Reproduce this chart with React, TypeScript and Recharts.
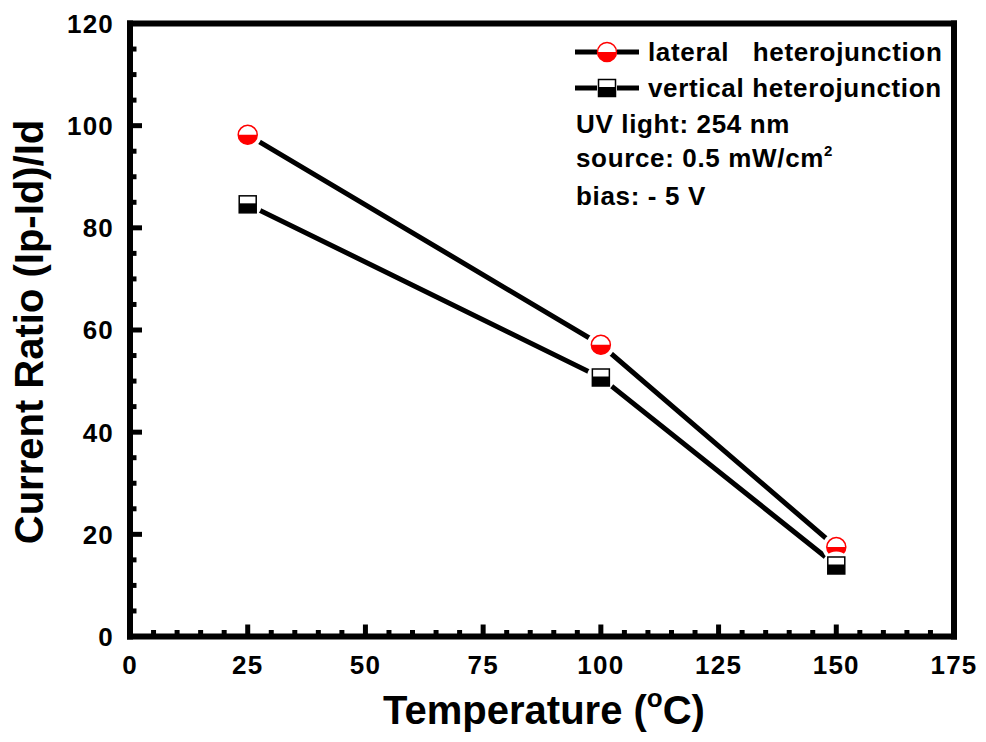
import { LineChart, Line, XAxis, YAxis, Legend, CartesianGrid } from 'recharts'

const temperatures = [25, 100, 150]
const lateralRatio = [98.2, 57.1, 17.5]
const verticalRatio = [84.6, 50.7, 13.9]

const xMajorTicks = [0, 25, 50, 75, 100, 125, 150, 175]
const yMajorTicks = [0, 20, 40, 60, 80, 100, 120]
const xTicks = Array.from({ length: 36 }, (_, i) => i * 5)
const yTicks = Array.from({ length: 25 }, (_, i) => i * 5)

const notes = ['UV light: 254 nm', 'source: 0.5 mW/cm', 'bias: - 5 V']

const data = temperatures.map((t, i) => ({ temp: t, lateral: lateralRatio[i], vertical: verticalRatio[i] }))

const FONT = '"Liberation Sans", Arial, Helvetica, sans-serif'
const RED = '#ff0000'
const X_GAP = 37
const Y_GAP = 17

function HalfCircle({ cx, cy, gap = true }: any) {
  const r = 9.5
  return (
    <g>
      {gap && <circle cx={cx} cy={cy} r={14} fill="#fff" />}
      <circle cx={cx} cy={cy} r={r} fill="#fff" stroke={RED} strokeWidth={1.5} />
      <path d={`M${cx - r},${cy} A${r},${r} 0 0 0 ${cx + r},${cy} Z`} fill={RED} />
    </g>
  )
}

function HalfSquare({ cx, cy, gap = true }: any) {
  const h = 8.5
  return (
    <g>
      {gap && <circle cx={cx} cy={cy} r={14} fill="#fff" />}
      <rect x={cx - h} y={cy - h} width={h * 2} height={h * 2} fill="#fff" stroke="#000" strokeWidth={1.5} />
      <rect x={cx - h} y={cy - 1} width={h * 2} height={h + 1} fill="#000" />
    </g>
  )
}

// ticks point into the plot; minor ones are shorter and unlabeled
function XTick({ x, y, payload }: any) {
  const v = payload.value
  const major = xMajorTicks.includes(v)
  const axisY = y - X_GAP
  return (
    <g>
      <line x1={x} x2={x} y1={axisY} y2={axisY - (major ? 12 : 6.5)} stroke="#000" strokeWidth={5} />
      {major && (
        <text x={x} y={y} textAnchor="middle" fontFamily={FONT} fontWeight="bold" fontSize={26} letterSpacing={1.2} fill="#000">
          {v}
        </text>
      )}
    </g>
  )
}

function YTick({ x, y, payload }: any) {
  const v = payload.value
  const major = yMajorTicks.includes(v)
  const axisX = x + Y_GAP
  return (
    <g>
      <line x1={axisX} x2={axisX + (major ? 12 : 6.5)} y1={y} y2={y} stroke="#000" strokeWidth={5} />
      {major && (
        <text x={x + 1} y={y} dy="0.36em" textAnchor="end" fontFamily={FONT} fontWeight="bold" fontSize={26} letterSpacing={1.2} fill="#000">
          {v}
        </text>
      )}
    </g>
  )
}

function XTitle({ viewBox }: any) {
  const cx = viewBox.x + viewBox.width / 2 + 2
  return (
    <text x={cx} y={viewBox.y + 87} textAnchor="middle" fontFamily={FONT} fontWeight="bold" fontSize={40} fill="#000">
      Temperature (
      <tspan fontSize={26} dy={-17}>o</tspan>
      <tspan dy={17}>C)</tspan>
    </text>
  )
}

function YTitle({ viewBox }: any) {
  const cy = viewBox.y + viewBox.height / 2 + 2
  return (
    <text x={43} y={cy} transform={`rotate(-90, 43, ${cy})`} textAnchor="middle" fontFamily={FONT} fontWeight="bold" fontSize={40} fill="#000">
      Current Ratio (Ip-Id)/Id
    </text>
  )
}

const rowStyle = { height: 36, lineHeight: '36px', display: 'flex', alignItems: 'center', whiteSpace: 'pre' as const }

function renderLegend({ payload }: any) {
  return (
    <div style={{ fontFamily: FONT, fontWeight: 'bold', fontSize: 26, letterSpacing: 0.65, color: '#000' }}>
      {(payload || []).map((p: any) => (
        <div key={p.dataKey} style={rowStyle}>
          <svg width={64} height={36} style={{ marginRight: 9 }}>
            <line x1={0} x2={22} y1={18} y2={18} stroke="#000" strokeWidth={5} />
            <line x1={42} x2={64} y1={18} y2={18} stroke="#000" strokeWidth={5} />
            {p.dataKey === 'lateral' ? <HalfCircle cx={32} cy={18} gap={false} /> : <HalfSquare cx={32} cy={18} gap={false} />}
          </svg>
          <span>{p.value}</span>
        </div>
      ))}
      {notes.map((n, i) => (
        <div key={n} style={{ ...rowStyle, paddingLeft: 1 }}>
          <span>
            {n}
            {i === 1 && <span style={{ fontSize: 15, position: 'relative', top: -11 }}>2</span>}
          </span>
        </div>
      ))}
    </div>
  )
}

// the box around the plot: grid lines only on the four edges
const frameRows = ({ offset }: any) => [offset.top, offset.top + offset.height]
const frameCols = ({ offset }: any) => [offset.left, offset.left + offset.width]

export default function App() {
  return (
    <div style={{ position: 'absolute', left: 0, top: 0, background: '#fff' }}>
      <LineChart width={986} height={742} data={data} margin={{ top: 23.5, right: 32, bottom: 45.5, left: 30 }}>
        <CartesianGrid
          horizontalCoordinatesGenerator={frameRows}
          verticalCoordinatesGenerator={frameCols}
          stroke="#000"
          strokeWidth={6}
          strokeLinecap="square"
        />
        <XAxis
          type="number"
          dataKey="temp"
          domain={[0, 175]}
          ticks={xTicks}
          interval={0}
          height={60}
          tickSize={0}
          tickMargin={X_GAP}
          axisLine={false}
          tick={<XTick />}
          label={<XTitle />}
        />
        <YAxis
          type="number"
          domain={[0, 120]}
          ticks={yTicks}
          interval={0}
          width={100}
          tickSize={0}
          tickMargin={Y_GAP}
          axisLine={false}
          tick={<YTick />}
          label={<YTitle />}
        />
        <Legend
          layout="vertical"
          align="center"
          verticalAlign="middle"
          content={renderLegend}
          wrapperStyle={{ left: 575, top: 34, width: 400 }}
        />
        <Line
          dataKey="lateral"
          name="lateral   heterojunction"
          stroke="#000"
          strokeWidth={5}
          dot={<HalfCircle />}
          activeDot={false}
          isAnimationActive={false}
        />
        <Line
          dataKey="vertical"
          name="vertical heterojunction"
          stroke="#000"
          strokeWidth={5}
          dot={<HalfSquare />}
          activeDot={false}
          isAnimationActive={false}
        />
      </LineChart>
    </div>
  )
}
